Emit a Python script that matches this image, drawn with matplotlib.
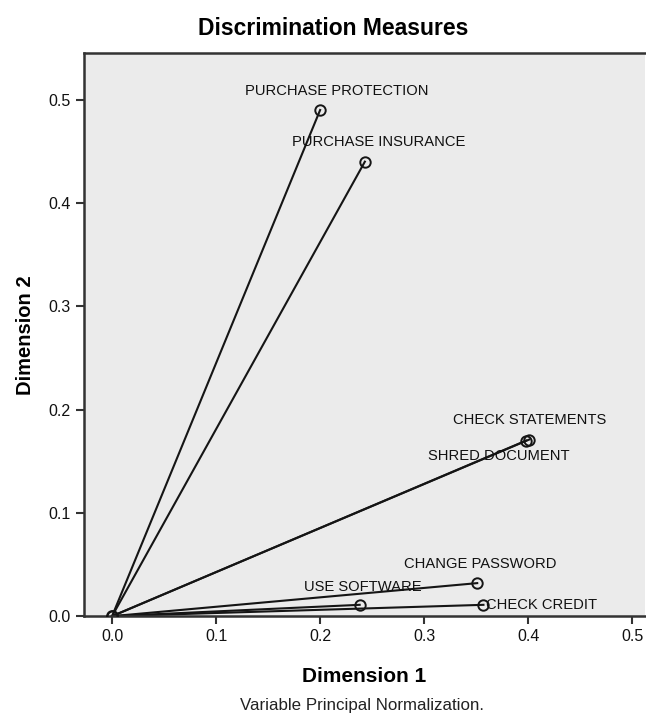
import matplotlib.pyplot as plt

plt.rcParams['font.family'] = ['Liberation Sans', 'DejaVu Sans']

# discrimination measures
variables = ['PURCHASE PROTECTION', 'PURCHASE INSURANCE', 'CHECK STATEMENTS',
             'SHRED DOCUMENT', 'CHANGE PASSWORD', 'USE SOFTWARE', 'CHECK CREDIT']
dim1 = [0.200, 0.243, 0.401, 0.398, 0.351, 0.238, 0.357]
dim2 = [0.490, 0.440, 0.171, 0.170, 0.032, 0.011, 0.011]

# label placement: (dx points, dy points, ha, va)
label_pos = {
    'PURCHASE PROTECTION': (12, 9, 'center', 'bottom'),
    'PURCHASE INSURANCE': (10, 9, 'center', 'bottom'),
    'CHECK STATEMENTS': (0, 9, 'center', 'bottom'),
    'SHRED DOCUMENT': (-20, -6, 'center', 'top'),
    'CHANGE PASSWORD': (2, 9, 'center', 'bottom'),
    'USE SOFTWARE': (2, 8, 'center', 'bottom'),
    'CHECK CREDIT': (2, 0, 'left', 'center'),
}

fig = plt.figure(figsize=(6.46, 7.19), dpi=100)
ax = fig.add_axes([0.130, 0.143, 0.868, 0.783])
ax.set_facecolor('#ebebeb')

for name, x, y in zip(variables, dim1, dim2):
    ax.plot([0, x], [0, y], color='#151515', lw=1.5, zorder=2)
    ax.plot(x, y, 'o', mfc='none', mec='#151515', ms=7.5, mew=1.4, zorder=3)
    dx, dy, ha, va = label_pos[name]
    ax.annotate(name, (x, y), xytext=(dx, dy), textcoords='offset points',
                ha=ha, va=va, fontsize=10.6, color='#111111')
ax.plot(0, 0, 'o', mfc='none', mec='#151515', ms=7.5, mew=1.8, zorder=3)

ax.set_xlim(-0.027, 0.512)
ax.set_ylim(0, 0.545)
ax.set_xticks([0.0, 0.1, 0.2, 0.3, 0.4, 0.5])
ax.set_yticks([0.0, 0.1, 0.2, 0.3, 0.4, 0.5])
ax.set_xticklabels(['0.0', '0.1', '0.2', '0.3', '0.4', '0.5'])
ax.set_yticklabels(['0.0', '0.1', '0.2', '0.3', '0.4', '0.5'])
ax.tick_params(direction='out', length=6, width=1.5, color='#333333',
               labelsize=11.5, labelcolor='#111111')
for side in ['left', 'bottom', 'top']:
    ax.spines[side].set_linewidth(1.8)
    ax.spines[side].set_color('#333333')
ax.spines['right'].set_visible(False)

ax.set_xlabel('Dimension 1', fontsize=15, fontweight='bold', labelpad=16)
ax.set_ylabel('Dimension 2', fontsize=14.5, fontweight='bold', labelpad=10)
fig.text(0.515, 0.961, 'Discrimination Measures', ha='center', va='center',
         fontsize=16.5, fontweight='bold')
fig.text(0.56, 0.013, 'Variable Principal Normalization.', ha='center',
         fontsize=12.2, color='#222222')

plt.savefig('out.png', dpi=100)
